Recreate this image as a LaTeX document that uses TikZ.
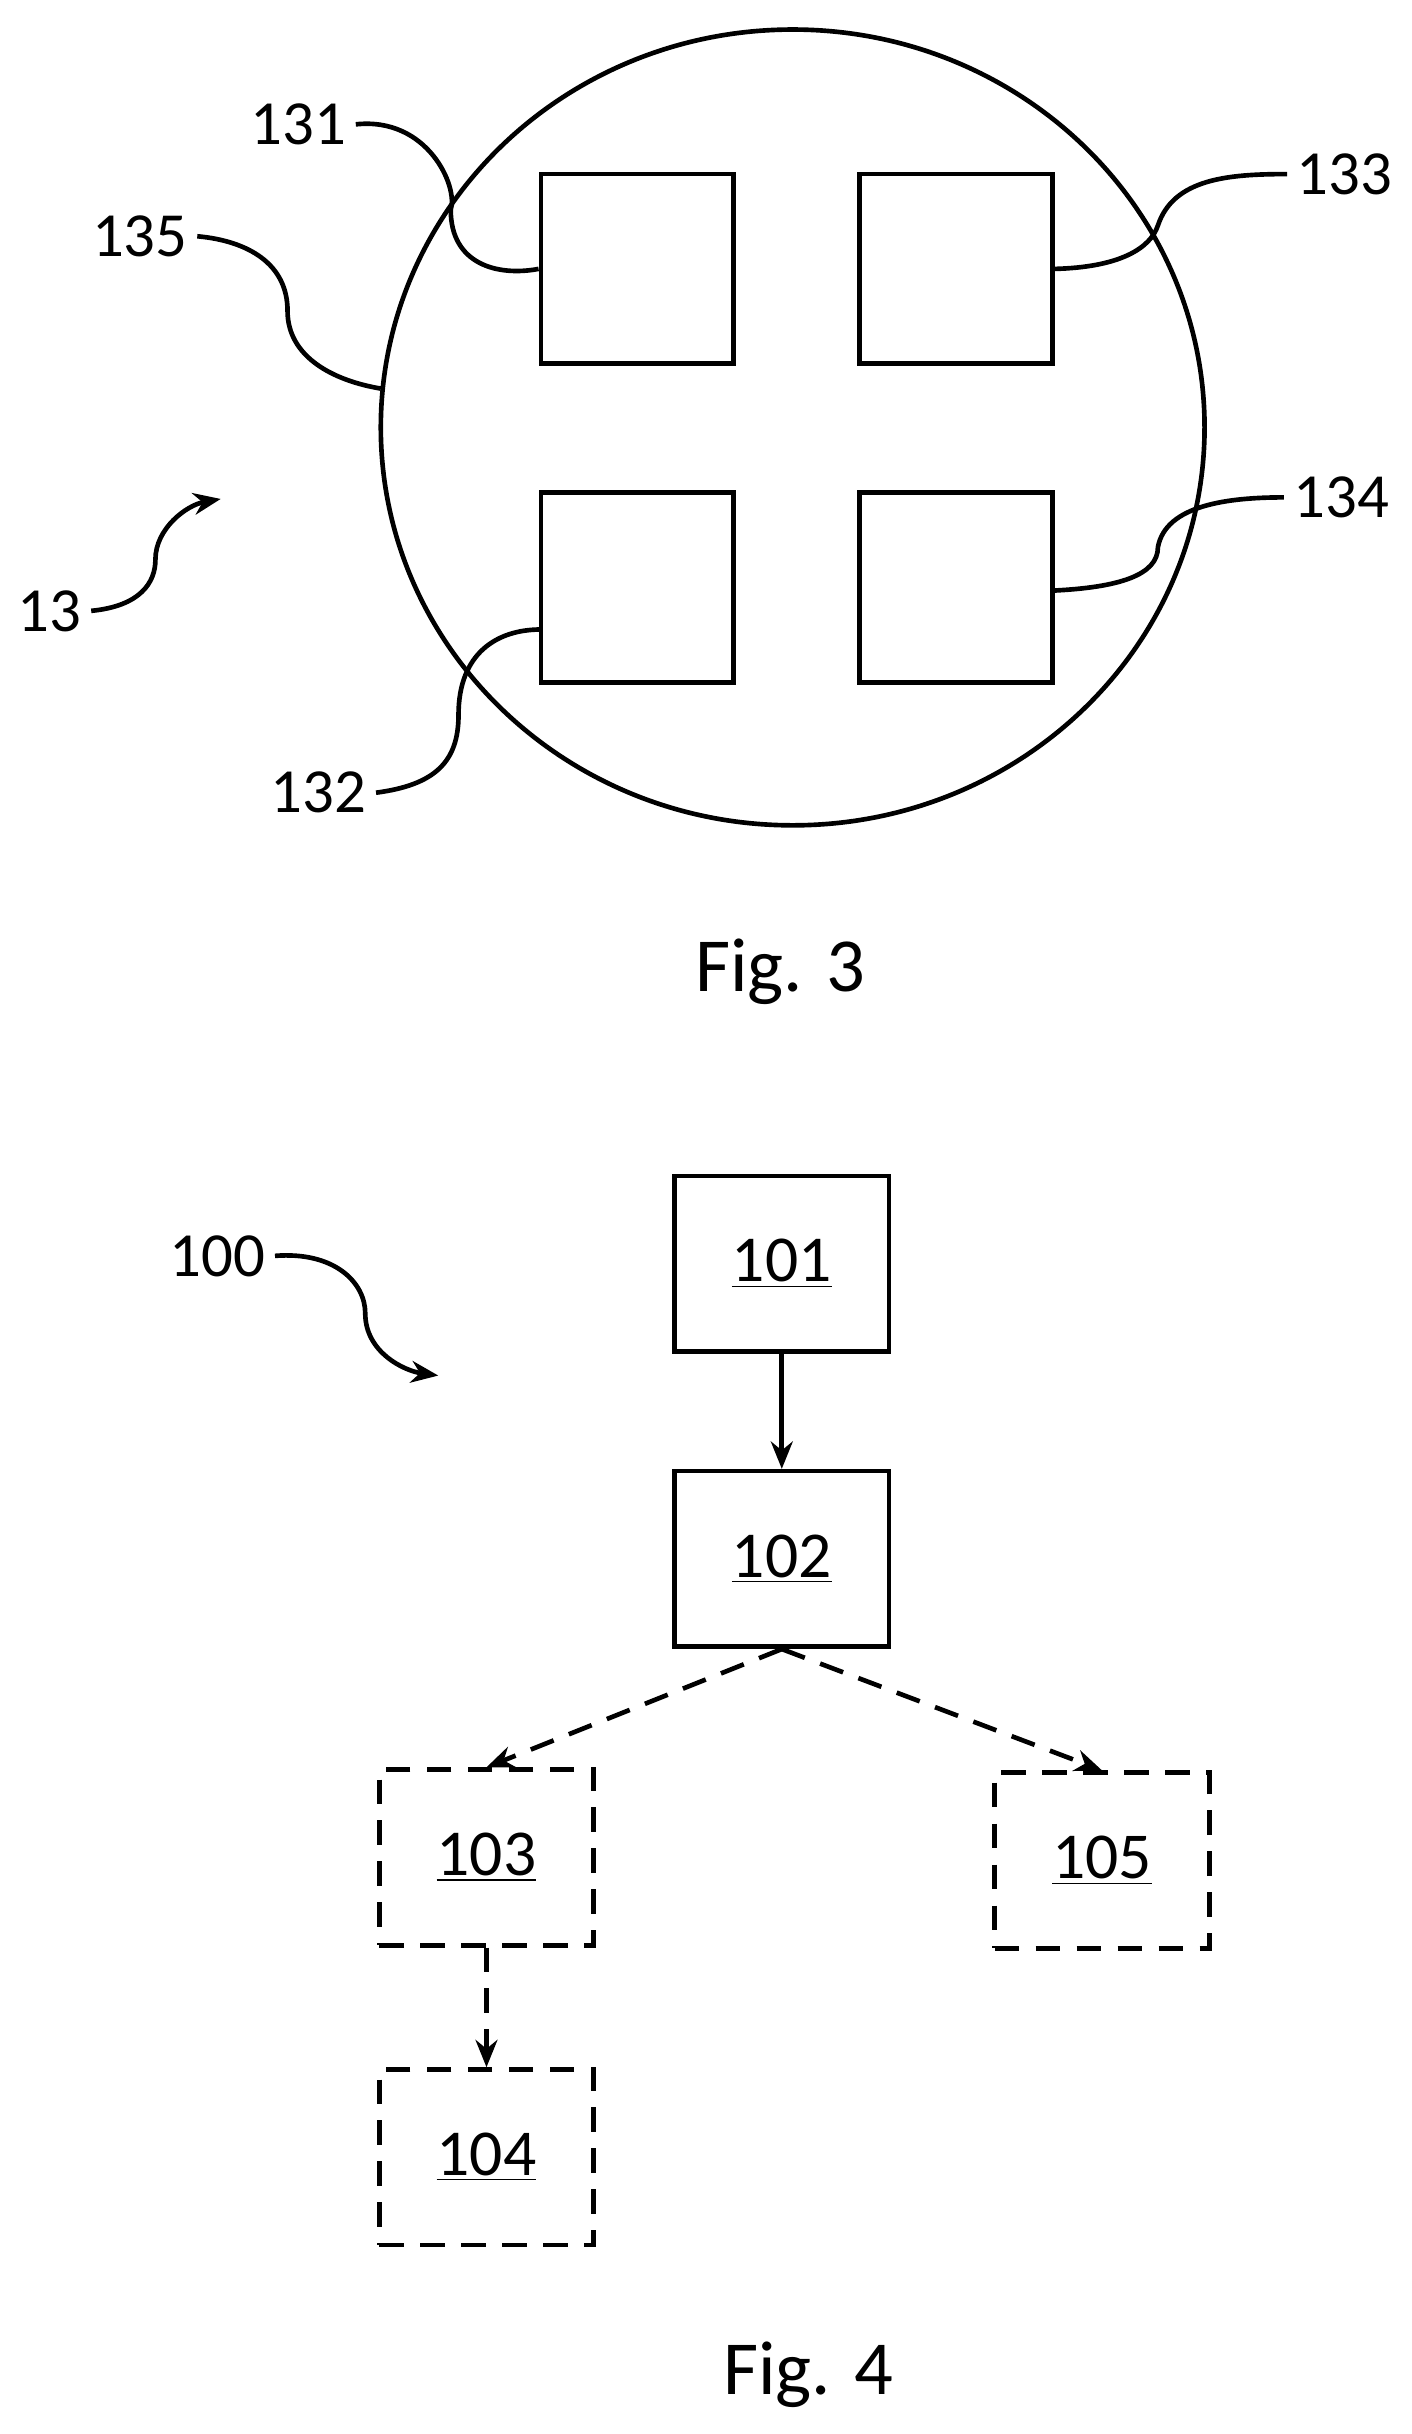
\documentclass[tikz,border=0pt]{standalone}
\usepackage{fontspec}
\setmainfont{Carlito}
\usetikzlibrary{arrows.meta}
\begin{document}
\begin{tikzpicture}[x=0.02cm,y=-0.02cm,
  ln/.style={line width=1.7pt},
  lbl/.style={font=\fontsize{23}{26}\selectfont},
  fig/.style={font=\fontsize{28}{32}\selectfont},
  box/.style={ln,draw,minimum width=2.48cm,minimum height=2.44cm,inner sep=0},
  stepbox/.style={ln,draw,minimum width=2.76cm,minimum height=2.26cm,inner sep=0,font=\fontsize{24}{28}\selectfont},
  dsh/.style={dash pattern=on 9pt off 6pt},
  dstep/.style={stepbox,dsh},
  tip/.style={-{Stealth[length=10pt,width=8pt]}}]
\useasboundingbox (0,0) rectangle (908,1566);
\draw[ln] (510,275) ellipse [x radius=265, y radius=256];
\node[box] (b1) at (410,173) {};
\node[box] (b3) at (615,173) {};
\node[box] (b2) at (410,378) {};
\node[box] (b4) at (615,378) {};
\node[lbl] (t131) at (192,80) {131};
\node[lbl] (t133) at (865,112) {133};
\node[lbl] (t135) at (90,152) {135};
\node[lbl] (t134) at (863,320) {134};
\node[lbl] (t132) at (205,510) {132};
\node[lbl] (t13) at (32,393) {13};
\draw[ln] (t131.east) .. controls (275,75) and (295,120) .. (290,135) .. controls (290,170) and (320,178) .. (b1.west);
\draw[ln] (b3.east) .. controls (720,172) and (740,160) .. (745,145) .. controls (755,115) and (790,112) .. (t133.west);
\draw[ln] (t135.east) .. controls (160,155) and (185,170) .. (185,200) .. controls (185,230) and (215,245) .. (245,250);
\draw[ln] (677,380) .. controls (720,378) and (745,370) .. (745,352) .. controls (750,325) and (790,320) .. (t134.west);
\draw[ln] (t132.east) .. controls (280,505) and (295,490) .. (295,460) .. controls (295,420) and (320,405) .. (348,405);
\draw[ln,tip] (t13.east) .. controls (90,390) and (100,375) .. (100,360) .. controls (100,340) and (120,325) .. (142,321);
\node[fig] (f3) at (502,625) {Fig. 3};
\node[lbl] (t100) at (140,808) {100};
\draw[ln,tip] (t100.east) .. controls (215,805) and (235,825) .. (235,845) .. controls (235,870) and (260,882) .. (282,885);
\node[stepbox] (s101) at (503,813) {\underline{101}};
\node[stepbox] (s102) at (503,1003) {\underline{102}};
\node[dstep] (s103) at (313,1195) {\underline{103}};
\node[dstep] (s105) at (709,1197) {\underline{105}};
\node[dstep] (s104) at (313,1388) {\underline{104}};
\draw[ln,tip] (s101.south) -- (s102.north);
\draw[ln,tip,dsh] (s102.south) -- (s103.north);
\draw[ln,tip,dsh] (s102.south) -- (s105.north);
\draw[ln,tip,dsh] (s103.south) -- (s104.north);
\node[fig] (f4) at (520,1528) {Fig. 4};
\end{tikzpicture}
\end{document}
